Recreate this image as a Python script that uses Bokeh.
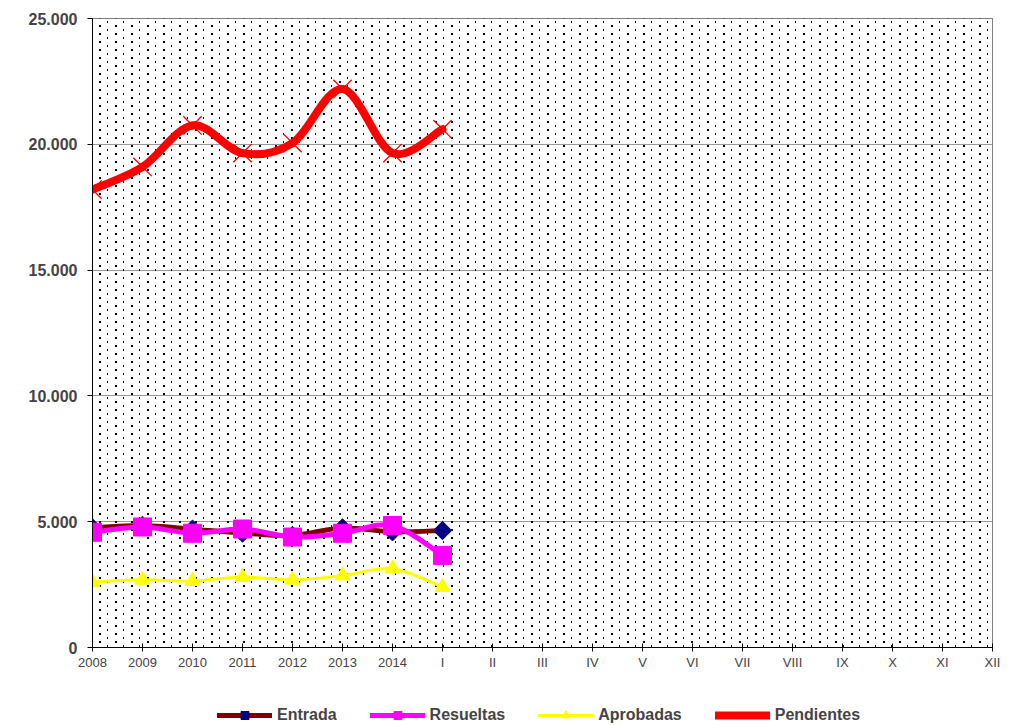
import math
import struct
import zlib
import base64
from bokeh.plotting import figure
from bokeh.layouts import column
from bokeh.models import (FixedTicker, Legend, LegendItem, BoxAnnotation, Range1d,
                          CustomJSTickFormatter, ImageURLTexture)
from bokeh.embed import file_html
from bokeh.resources import INLINE

categories = ["2008", "2009", "2010", "2011", "2012", "2013", "2014",
              "I", "II", "III", "IV", "V", "VI", "VII", "VIII", "IX", "X", "XI", "XII"]
entrada = [4750, 4850, 4700, 4550, 4450, 4750, 4600, 4650]
resueltas = [4580, 4790, 4540, 4710, 4390, 4540, 4850, 3660]
aprobadas = [2600, 2690, 2640, 2800, 2690, 2860, 3130, 2400]
pendientes = [18200, 19100, 20750, 19650, 20050, 22200, 19650, 20600]
y_ticks = [0, 5000, 10000, 15000, 20000, 25000]

FONT = "Liberation Sans"


def png_data_url(w, h, dark):
    rows = []
    for yy in range(h):
        row = bytearray([0])
        for xx in range(w):
            if (xx, yy) in dark:
                row += bytes([0, 0, 0, 255])
            else:
                row += bytes([255, 255, 255, 0])
        rows.append(bytes(row))
    raw = b"".join(rows)

    def chunk(tag, data):
        c = struct.pack(">I", len(data)) + tag + data
        return c + struct.pack(">I", zlib.crc32(tag + data) & 0xffffffff)

    png = (b"\x89PNG\r\n\x1a\n" + chunk(b"IHDR", struct.pack(">IIBBBBB", w, h, 8, 6, 0, 0, 0))
           + chunk(b"IDAT", zlib.compress(raw)) + chunk(b"IEND", b""))
    return "data:image/png;base64," + base64.b64encode(png).decode()


# background texture tile: a large dot and a small dot, staggered
tile = png_data_url(16, 8, {(3, 1), (4, 1), (3, 2), (4, 2), (11, 5), (11, 6)})

p = figure(frame_width=900, frame_height=629, output_backend="svg", toolbar_location=None,
           x_range=Range1d(0, len(categories) - 1), y_range=Range1d(0, 25000),
           min_border_left=92, min_border_top=18, min_border_right=14, min_border_bottom=30)
p.outline_line_color = "black"
p.outline_line_dash = "1 1"
p.outline_line_width = 1
p.background_fill_color = "white"

p.add_layout(BoxAnnotation(fill_color=None, fill_alpha=0, line_color=None,
                           hatch_pattern="dots", hatch_extra={"dots": ImageURLTexture(url=tile)},
                           level="underlay"))

p.xgrid.grid_line_color = None
p.ygrid.grid_line_color = "#333333"
p.ygrid.grid_line_dash = "1 1"
p.ygrid.grid_line_width = 1

p.xaxis.ticker = FixedTicker(ticks=list(range(len(categories))))
p.xaxis.major_label_overrides = {i: c for i, c in enumerate(categories)}
p.xaxis.major_label_text_font = FONT
p.xaxis.major_label_text_font_size = "13px"
p.xaxis.major_tick_in = 4
p.xaxis.major_tick_out = 4
p.xaxis.minor_tick_line_color = None
p.xaxis.axis_line_color = "black"
p.xaxis.major_label_standoff = 3

p.yaxis.ticker = FixedTicker(ticks=y_ticks)
p.yaxis.formatter = CustomJSTickFormatter(code="return tick.toString().replace(/\\B(?=(\\d{3})+(?!\\d))/g, '.');")
p.yaxis.major_label_text_font = FONT
p.yaxis.major_label_text_font_size = "16px"
p.yaxis.major_label_text_font_style = "bold"
p.yaxis.major_tick_in = 0
p.yaxis.major_tick_out = 5
p.yaxis.minor_tick_line_color = None
p.yaxis.axis_line_color = "black"
p.yaxis.major_label_standoff = 10


def smooth(xs, ys):
    n = len(xs)
    x0, y0, x1, y1, cx0, cy0, cx1, cy1 = [], [], [], [], [], [], [], []
    for i in range(n - 1):
        xp = xs[i - 1] if i > 0 else xs[i]
        yp = ys[i - 1] if i > 0 else ys[i]
        xn = xs[i + 2] if i + 2 < n else xs[i + 1]
        yn = ys[i + 2] if i + 2 < n else ys[i + 1]
        x0.append(xs[i]); y0.append(ys[i]); x1.append(xs[i + 1]); y1.append(ys[i + 1])
        cx0.append(xs[i] + (xs[i + 1] - xp) / 6); cy0.append(ys[i] + (ys[i + 1] - yp) / 6)
        cx1.append(xs[i + 1] - (xn - xs[i]) / 6); cy1.append(ys[i + 1] - (yn - ys[i]) / 6)
    return dict(x0=x0, y0=y0, x1=x1, y1=y1, cx0=cx0, cy0=cy0, cx1=cx1, cy1=cy1)


# legend strip below the chart; its ranges keep the series out of view so only the legend shows
lg = figure(frame_width=900, frame_height=48, output_backend="svg", toolbar_location=None,
            x_axis_location=None, y_axis_location=None,
            x_range=Range1d(0, len(categories) - 1), y_range=Range1d(-200000, -100000),
            min_border_left=92, min_border_right=14, min_border_top=0, min_border_bottom=0)
lg.outline_line_color = None
lg.grid.visible = False

items = []
series = [
    ("Entrada", entrada, "#800000", 5, "square", "#000080", 13, math.pi / 4),
    ("Resueltas", resueltas, "#FF00FF", 5, "square", "#FF00FF", 18, 0),
    ("Aprobadas", aprobadas, "#FFFF00", 3, "triangle", "#FFFF00", 15, 0),
    ("Pendientes", pendientes, "#FF0000", 8, "x", "#FF0000", 26, 0),
]
for name, vals, lc, lw, marker, mc, ms, ang in series:
    xs = list(range(len(vals)))
    p.bezier(x0="x0", y0="y0", x1="x1", y1="y1", cx0="cx0", cy0="cy0", cx1="cx1", cy1="cy1",
             source=smooth(xs, vals), line_color=lc, line_width=lw, line_cap="round")
    if marker == "x":
        p.scatter(x=xs, y=vals, marker=marker, size=ms, line_color=mc, line_width=1.3)
        leg_marker = lg.scatter(x=xs, y=vals, marker=marker, size=ms, line_color=mc, line_width=1.3)
    else:
        p.scatter(x=xs, y=vals, marker=marker, size=ms, angle=ang, fill_color=mc, line_color=mc)
        leg_marker = lg.scatter(x=xs, y=vals, marker=marker, size=ms, angle=ang,
                                fill_color=mc, line_color=mc)
    leg_line = lg.line(x=xs, y=vals, line_color=lc, line_width=lw, line_cap="round")
    items.append(LegendItem(label=name, renderers=[leg_line, leg_marker]))

legend = Legend(items=items, orientation="horizontal", location=(125, 0),
                label_text_font=FONT, label_text_font_size="16px", label_text_font_style="bold",
                glyph_width=55, glyph_height=20, label_standoff=5, spacing=33,
                border_line_color=None, background_fill_alpha=0, margin=0, padding=0)
lg.add_layout(legend, "center")

open("out.html", "w").write(file_html(column(p, lg, spacing=0), INLINE))
